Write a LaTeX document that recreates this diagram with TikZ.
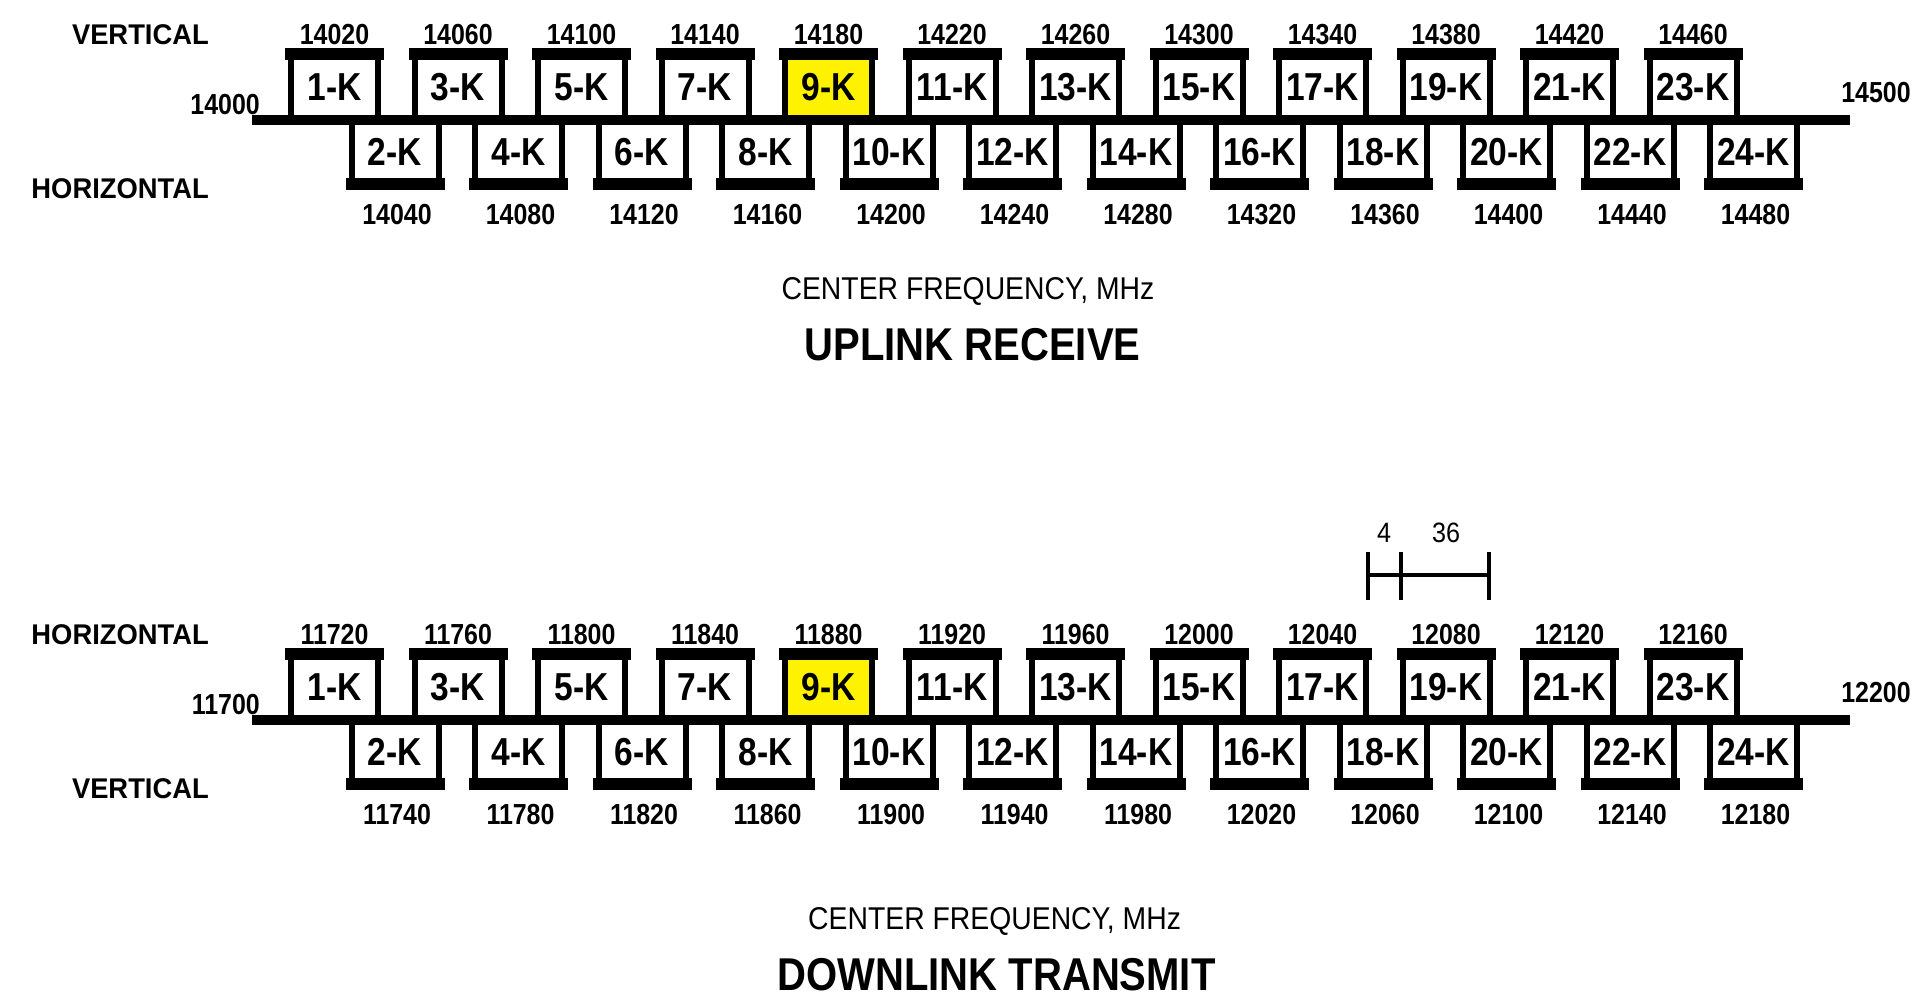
\documentclass[tikz,border=0pt]{standalone}
\usepackage{fontspec}
\setmainfont{Liberation Sans}
\newfontfamily\nfont[FakeStretch=0.9]{Liberation Sans}
\newfontfamily\bnfont[FakeStretch=0.86]{Liberation Sans Bold}
\newfontfamily\sfont[FakeStretch=0.96]{Liberation Sans Bold}
\newfontfamily\tfont[FakeStretch=0.87]{Liberation Sans Bold}
\begin{document}
\begin{tikzpicture}[x=1pt,y=-1pt,
  chan/.style={draw=black, line width=6pt, minimum width=87pt, inner sep=0pt,
    font=\bnfont\fontsize{39}{39}\selectfont},
  num/.style={inner sep=0pt, font=\bnfont\fontsize{29}{29}\selectfont},
  side/.style={inner sep=0pt, anchor=east, font=\sfont\fontsize{28.5}{28.5}\selectfont},
  cf/.style={inner sep=0pt, font=\nfont\fontsize{31.5}{31.5}\selectfont},
  ttl/.style={inner sep=0pt, font=\tfont\fontsize{46}{46}\selectfont},
  baseline/.style={line width=10pt},
  bar/.style={line width=4.5pt}]
\useasboundingbox (0,0) rectangle (1921,997);
\fill[white] (0,0) rectangle (1921,997);

\foreach \d/\oy/\tb/\bb/\lo/\hi/\tl/\bl in
  {u/0/14020/14040/14000/14500/VERTICAL/HORIZONTAL,
   d/600/11720/11740/11700/12200/HORIZONTAL/VERTICAL}{
  \foreach \k in {0,...,11}{
    \pgfmathtruncatemacro\no{2*\k+1}
    \pgfmathtruncatemacro\ne{2*\k+2}
    \pgfmathtruncatemacro\ft{\tb+40*\k}
    \pgfmathtruncatemacro\fb{\bb+40*\k}
    \ifnum\k=4 \def\fc{yellow}\else\def\fc{white}\fi
    % upper (odd) channel
    \node[chan, fill=\fc, minimum height=66.3pt] (\d o\no) at (334.5+123.5*\k, 86.85+\oy) {\no-K};
    \fill ([xshift=-3pt,yshift=3pt]\d o\no.north west) rectangle ([xshift=3pt,yshift=-9pt]\d o\no.north east);
    \node[num] (\d t\no) at (334.5+123.5*\k, 35+\oy) {\ft};
    % lower (even) channel
    \node[chan, fill=white, minimum height=63.7pt] (\d e\ne) at (395+123.5*\k, 151.85+\oy) {\ne-K};
    \fill ([xshift=-3pt,yshift=-3pt]\d e\ne.south west) rectangle ([xshift=3pt,yshift=9pt]\d e\ne.south east);
    \node[num] (\d b\ne) at (397+123.5*\k, 215+\oy) {\fb};
  }
  \coordinate (\d L) at (252,120+\oy);
  \coordinate (\d R) at (1850,120+\oy);
  \draw[baseline] (\d L) -- (\d R);
  \node[num, anchor=east] (\d lo) at (260,105+\oy) {\lo};
  \node[num] (\d hi) at (1876,93+\oy) {\hi};
  \node[side] (\d st) at (209,35+\oy) {\tl};
  \node[side] (\d sb) at (209,189+\oy) {\bl};
}

% titles
\node[cf] (ucf) at (968,291.7) {CENTER FREQUENCY, MHz};
\node[ttl] (uttl) at (972.6,345) {UPLINK RECEIVE};
\node[cf] (dcf) at (994.6,921.7) {CENTER FREQUENCY, MHz};
\node[ttl] (dttl) at (996.6,975) {DOWNLINK TRANSMIT};

% spacing bar
\coordinate (b1t) at (1368,552); \coordinate (b1b) at (1368,600);
\coordinate (b2t) at (1401,552); \coordinate (b2b) at (1401,600);
\coordinate (b3t) at (1489,552); \coordinate (b3b) at (1489,600);
\coordinate (bm1) at (1368,575); \coordinate (bm3) at (1489,575);
\draw[bar] (b1t) -- (b1b);
\draw[bar] (b2t) -- (b2b);
\draw[bar] (b3t) -- (b3b);
\draw[bar] (bm1) -- (bm3);
\node[num, font=\nfont\fontsize{28}{28}\selectfont] (g4) at (1384,533) {4};
\node[num, font=\nfont\fontsize{28}{28}\selectfont] (g36) at (1446,533) {36};
\end{tikzpicture}
\end{document}
